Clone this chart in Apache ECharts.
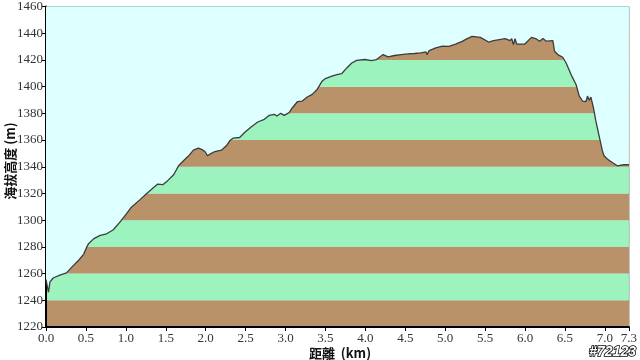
<!DOCTYPE html>
<html><head><meta charset="utf-8">
<script src="https://cdn.jsdelivr.net/npm/echarts@6/dist/echarts.min.js"></script>
<style>html,body{margin:0;padding:0;background:#fff}#c{width:640px;height:360px}</style>
</head><body><div id="c"></div>
<script>
const distanceKm = [0,0.016,0.031,0.050,0.090,0.173,0.257,0.326,0.409,0.471,0.492,0.512,0.533,0.595,0.678,0.760,0.843,0.926,1.007,1.069,1.174,1.255,1.359,1.400,1.462,1.524,1.599,1.660,1.722,1.784,1.846,1.908,1.949,1.991,2.024,2.053,2.115,2.197,2.259,2.301,2.342,2.425,2.487,2.569,2.652,2.735,2.797,2.859,2.891,2.941,2.983,3.045,3.086,3.148,3.210,3.272,3.334,3.396,3.458,3.498,3.581,3.643,3.705,3.767,3.829,3.891,3.994,4.077,4.139,4.222,4.284,4.366,4.449,4.532,4.613,4.696,4.758,4.771,4.799,4.882,4.965,5.047,5.130,5.213,5.275,5.337,5.440,5.543,5.605,5.750,5.812,5.833,5.853,5.874,5.895,5.997,6.080,6.142,6.183,6.224,6.266,6.348,6.369,6.410,6.472,6.514,6.576,6.638,6.679,6.720,6.762,6.782,6.803,6.824,6.856,6.886,6.927,6.948,6.968,6.989,7.030,7.092,7.154,7.237,7.3];
const elevationM = [1255.5,1255,1246,1253.8,1256.7,1258.8,1260.5,1265,1270,1274.4,1275.4,1280,1282.4,1286,1288.6,1289.8,1292.8,1298.5,1304.7,1309.7,1315.2,1319.6,1325,1327,1326.6,1329.6,1334,1340.7,1344.5,1348,1352.4,1354,1353,1351.4,1348.2,1349.5,1351.4,1352.4,1355.7,1359.4,1361.4,1361.9,1365.6,1369.8,1373.5,1375.5,1378.5,1379.3,1378,1380,1378.5,1380.5,1384.2,1388.7,1389.2,1392.2,1394.2,1397.9,1404.1,1406,1407.8,1409,1409.8,1414,1417.7,1419.7,1420.3,1419.5,1420.3,1424,1422.3,1423.3,1424,1424.5,1424.8,1425.3,1426,1424,1427,1429,1430.4,1430.2,1431.9,1433.9,1435.9,1437.6,1436.9,1433.4,1434.4,1435.9,1434.4,1435.9,1431.5,1435.9,1431.9,1431.9,1436.9,1435.7,1434,1436,1434,1434.4,1426.5,1424,1422,1417.7,1409,1401.6,1392.9,1389.2,1388.7,1392.9,1389.7,1392.2,1384.2,1374.3,1363.1,1361.9,1352,1348.2,1345.8,1343.2,1340.7,1341.5,1341.5];
const xTickValues = [0,0.5,1.0,1.5,2.0,2.5,3.0,3.5,4.0,4.5,5.0,5.5,6.0,6.5,7.0,7.3];
const yMin = 1220, yMax = 1460, yStep = 20;

const profile = distanceKm.map((d, i) => [d, elevationM[i]]);

const chart = echarts.init(document.getElementById('c'), null, {renderer: 'canvas'});
const serif = 'Liberation Serif';
chart.setOption({
  animation: false,
  backgroundColor: '#ffffff',
  grid: {left: 46, right: 4, top: 5, bottom: 33, show: true, borderColor: '#666', borderWidth: 1, backgroundColor: '#ddffff'},
  xAxis: {
    type: 'value', min: 0, max: 7.3, interval: 0.5,
    axisLine: {show: true, onZero: false, lineStyle: {color: '#000', width: 2}},
    axisTick: {show: true, length: 4, customValues: xTickValues, lineStyle: {color: '#000'}},
    axisLabel: {customValues: xTickValues, formatter: v => Number(v).toFixed(1), color: '#333', fontFamily: serif, fontSize: 13, margin: 5},
    splitLine: {show: false}
  },
  yAxis: {
    type: 'value', min: yMin, max: yMax, interval: yStep,
    axisLine: {show: true, lineStyle: {color: '#000', width: 2}},
    axisTick: {show: true, length: 4, lineStyle: {color: '#000'}},
    axisLabel: {formatter: v => String(v), color: '#333', fontFamily: serif, fontSize: 13, margin: 3},
    splitLine: {show: false},
    splitArea: {show: true, areaStyle: {color: ['#b9926a', '#9cf3be']}}
  },
  series: [
    {type: 'line', data: profile, symbol: 'none', z: 5,
     lineStyle: {color: '#3c3c3c', width: 1.3},
     areaStyle: {origin: 'end', color: '#ddffff', opacity: 1}}
  ],
  graphic: [
    {type: 'text', x: 10, y: 161, rotation: Math.PI / 2,
     style: {text: '海拔高度 (m)', font: 'bold 13px "Noto Sans CJK TC"', fill: '#111', align: 'center', verticalAlign: 'middle'}},
    {type: 'text', x: 340, y: 353,
     style: {text: '距離  (km)', font: 'bold 13px "Noto Sans CJK TC"', fill: '#111', align: 'center', verticalAlign: 'middle'}},
    {type: 'text', x: 636, y: 352,
     style: {text: '#72123', font: 'italic bold 14px "Liberation Sans"', fill: '#fff', stroke: '#000', lineWidth: 1.5, align: 'right', verticalAlign: 'middle'}}
  ]
});
</script></body></html>
